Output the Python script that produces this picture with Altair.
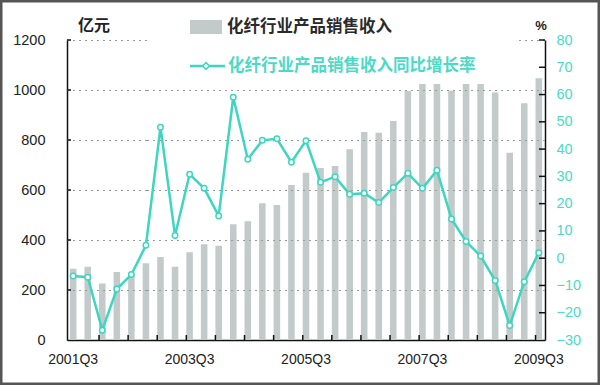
import altair as alt
import pandas as pd

quarters = [f"{y}Q{q}" for y in range(2001, 2010) for q in range(1, 5)][2:35]

revenue = [285, 293, 226, 272, 262, 307, 332, 293, 351, 383, 377, 463, 475, 547, 540, 620,
           669, 688, 696, 763, 832, 829, 876, 996, 1024, 1024, 997, 1024, 1024, 990, 749, 947, 1047]

growth = [-6.5, -7.0, -26.4, -11.3, -6.0, 4.7, 48.0, 8.3, 30.8, 25.6, 15.5, 59.0, 36.3, 43.2,
          43.8, 35.2, 43.1, 27.8, 29.9, 23.4, 23.8, 20.4, 25.9, 31.1, 25.6, 32.2, 14.4, 6.1,
          0.8, -8.2, -24.7, -8.6, 2.0]

x_labels = ["2001Q3", "2003Q3", "2005Q3", "2007Q3", "2009Q3"]
left_ticks = [0, 200, 400, 600, 800, 1000, 1200]
right_ticks = [-30, -20, -10, 0, 10, 20, 30, 40, 50, 60, 70, 80]

bar_name = "化纤行业产品销售收入"
line_name = "化纤行业产品销售收入同比增长率"

TEAL = "#3ED6C0"
TEAL_LABEL = "#4CD9C5"
GRAY = "#C2CACA"
FONT = "Liberation Sans"
CJK = "Noto Sans CJK SC"

df = pd.DataFrame({"q": quarters, "rev": revenue, "g": growth})
df_xt = pd.DataFrame({"q": quarters[2::2]})
df_lt = pd.DataFrame({"v": left_ticks[1:]})
df_gall = pd.DataFrame({"ga": left_ticks[1:]})
df_gmid = pd.DataFrame({"gm": left_ticks[1:-1]})
df_rt = pd.DataFrame({"v": right_ticks[1:]})
one = pd.DataFrame({"a": [0]})

xscale = alt.Scale(domain=quarters, paddingInner=0.55, paddingOuter=0.2)
yl = alt.Scale(domain=[0, 1200], nice=False, zero=False)
yr = alt.Scale(domain=[-30, 80], nice=False, zero=False)

x_axis = alt.Axis(values=x_labels, ticks=False, labelAngle=0, labelPadding=12,
                  labelFontSize=14, labelFont=FONT, labelColor="#222",
                  domainColor="#111", domainWidth=1.5, title=None, grid=False)

grid_style = dict(color="#9A9A9A", strokeWidth=1.2, strokeDash=[2, 4], yOffset=0.5)

grid_a = alt.Chart(df_gall).mark_rule(**grid_style).encode(
    x=alt.value(0), x2=alt.value(80),
    y=alt.Y("ga:Q", scale=yl, axis=None))
grid_b = alt.Chart(df_gall).mark_rule(**grid_style).encode(
    x=alt.value(452), x2=alt.value(478),
    y=alt.Y("ga:Q", scale=yl, axis=None))
grid_m = alt.Chart(df_gmid).mark_rule(**grid_style).encode(
    x=alt.value(80), x2=alt.value(452),
    y=alt.Y("gm:Q", scale=yl, axis=None))

bars = alt.Chart(df).mark_bar(color=GRAY).encode(
    x=alt.X("q:N", scale=xscale, axis=x_axis, sort=quarters),
    y=alt.Y("rev:Q", scale=yl,
            axis=alt.Axis(orient="left", values=left_ticks, ticks=False, grid=False,
                          format="d", domainColor="#111", domainWidth=1.5, labelPadding=22,
                          labelFontSize=14.5, labelFont=FONT, labelColor="#222", title=None)))

lticks = alt.Chart(df_lt).mark_rule(color="#111", strokeWidth=1.5).encode(
    x=alt.value(0), x2=alt.value(4),
    y=alt.Y("v:Q", scale=yl, axis=None))

xticks = alt.Chart(df_xt).mark_rule(color="#111", strokeWidth=1.5).encode(
    x=alt.X("q:N", scale=xscale, bandPosition=0, axis=x_axis, sort=quarters),
    y=alt.value(300), y2=alt.value(295))

line = alt.Chart(df).mark_line(
    color=TEAL, strokeWidth=2.5,
    point=alt.OverlayMarkDef(shape="circle", filled=True, fill="white", stroke=TEAL,
                             strokeWidth=1.5, size=30)).encode(
    x=alt.X("q:N", scale=xscale, axis=x_axis, sort=quarters),
    y=alt.Y("g:Q", scale=yr,
            axis=alt.Axis(orient="right", values=right_ticks, ticks=False, grid=False,
                          domainColor="#111", domainWidth=1.5, labelPadding=11,
                          labelFontSize=14.5, labelFont=FONT, labelColor=TEAL_LABEL,
                          title=None)))

rticks = alt.Chart(df_rt).mark_rule(color="#111", strokeWidth=1.5).encode(
    x=alt.value(472), x2=alt.value(478),
    y=alt.Y("v:Q", scale=yr, axis=None))

leg_rect = alt.Chart(one).mark_rect(color=GRAY).encode(
    x=alt.value(123), x2=alt.value(155), y=alt.value(-20), y2=alt.value(-6))
leg_text1 = alt.Chart(one).mark_text(align="left", baseline="middle", font=CJK,
                                     fontSize=16.5, fontWeight="bold", color="#2a2a2a").encode(
    x=alt.value(160), y=alt.value(-13), text=alt.value(bar_name))
leg_line = alt.Chart(one).mark_rule(color=TEAL, strokeWidth=2.5).encode(
    x=alt.value(123), x2=alt.value(158), y=alt.value(26))
leg_pt = alt.Chart(one).mark_point(shape="diamond", filled=True, fill="white", stroke=TEAL,
                                   strokeWidth=1.5, size=45, opacity=1).encode(
    x=alt.value(139), y=alt.value(26))
leg_text2 = alt.Chart(one).mark_text(align="left", baseline="middle", font=CJK,
                                     fontSize=16.5, fontWeight="bold", color=TEAL_LABEL).encode(
    x=alt.value(161), y=alt.value(26), text=alt.value(line_name))
unit_l = alt.Chart(one).mark_text(align="center", baseline="middle", font=CJK,
                                  fontSize=16, fontWeight="bold", color="#222").encode(
    x=alt.value(27), y=alt.value(-14), text=alt.value("亿元"))
unit_r = alt.Chart(one).mark_text(align="center", baseline="middle", font=FONT,
                                  fontSize=13, fontWeight="bold", color="#222").encode(
    x=alt.value(474), y=alt.value(-14), text=alt.value("%"))
frame = alt.Chart(one).mark_rect(filled=False, stroke="#555", strokeWidth=3).encode(
    x=alt.value(-66), x2=alt.value(532), y=alt.value(-39), y2=alt.value(344))

chart = alt.layer(
    bars, grid_a, grid_b, grid_m, lticks, xticks, line, rticks,
    leg_rect, leg_text1, leg_line, leg_pt, leg_text2, unit_l, unit_r, frame
).resolve_scale(y="independent").properties(
    width=478, height=300,
    autosize=alt.AutoSizeParams(type="none"),
    padding={"left": 67, "top": 40, "right": 55, "bottom": 45},
    background="white",
).configure_view(stroke=None)

chart.save("out.html", embed_options={"renderer": "svg", "actions": False})
